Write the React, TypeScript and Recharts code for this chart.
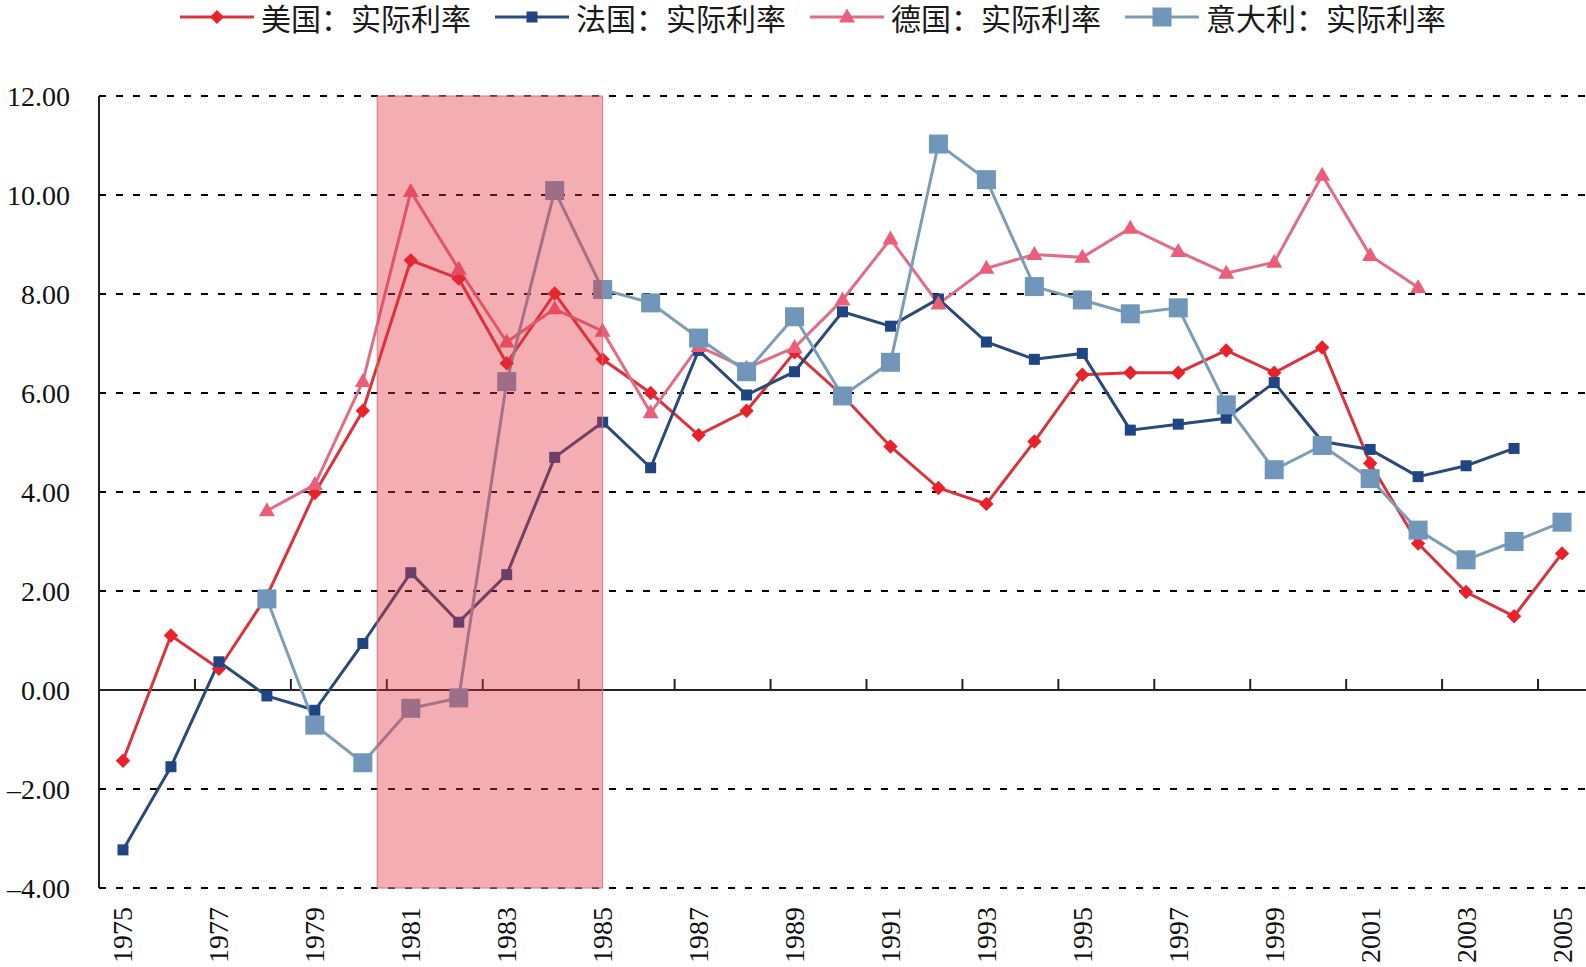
import React from 'react';
import {
  LineChart,
  Line,
  XAxis,
  YAxis,
  CartesianGrid,
  ReferenceArea,
  ReferenceLine,
} from 'recharts';

const years = [
  1975, 1976, 1977, 1978, 1979, 1980, 1981, 1982, 1983, 1984, 1985, 1986, 1987, 1988, 1989, 1990,
  1991, 1992, 1993, 1994, 1995, 1996, 1997, 1998, 1999, 2000, 2001, 2002, 2003, 2004, 2005,
];

// 美国
const usRate = [
  -1.43, 1.1, 0.43, 1.9, 3.98, 5.64, 8.68, 8.31, 6.6, 8.01, 6.68, 6.0, 5.15, 5.64, 6.82, 5.95,
  4.92, 4.08, 3.76, 5.02, 6.37, 6.41, 6.41, 6.86, 6.41, 6.92, 4.58, 2.96, 1.98, 1.49, 2.76,
];

// 法国
const frRate = [
  -3.23, -1.55, 0.57, -0.12, -0.41, 0.94, 2.37, 1.37, 2.33, 4.7, 5.41, 4.49, 6.86, 5.96, 6.43, 7.64,
  7.35, 7.9, 7.03, 6.68, 6.8, 5.25, 5.37, 5.49, 6.21, 5.02, 4.86, 4.31, 4.53, 4.88, null,
];

// 德国
const deRate = [
  null, null, null, 3.62, 4.15, 6.23, 10.07, 8.5, 7.03, 7.7, 7.25, 5.6, 6.94, 6.5, 6.92, 7.88,
  9.11, 7.8, 8.52, 8.8, 8.74, 9.33, 8.86, 8.42, 8.64, 10.4, 8.78, 8.13, null, null, null,
];

// 意大利
const itRate = [
  null, null, null, 1.84, -0.71, -1.47, -0.37, -0.16, 6.23, 10.09, 8.09, 7.82, 7.11, 6.43, 7.54, 5.94,
  6.62, 11.03, 10.31, 8.15, 7.88, 7.6, 7.72, 5.76, 4.45, 4.94, 4.27, 3.23, 2.63, 3.0, 3.39,
];

const yTicks = [-4, -2, 0, 2, 4, 6, 8, 10, 12];
const xTicks = [1975, 1977, 1979, 1981, 1983, 1985, 1987, 1989, 1991, 1993, 1995, 1997, 1999, 2001, 2003, 2005];
const shadeFrom = 1980.3;
const shadeTo = 1985;

const data = years.map((year, i) => ({
  year,
  us: usRate[i],
  fr: frRate[i],
  de: deRate[i],
  it: itRate[i],
}));

const W = 1586;
const H = 967;
const TOP = 96;
const AXIS_W = 99;
const AXIS_H = 79;
// height of the small tick marks standing on the zero line, in value units
const TICK_UNITS = 11 / ((H - TOP - AXIS_H) / 16);

const SERIF = '"Liberation Serif", "Times New Roman", serif';
const CJK = '"Liberation Serif", "Noto Sans CJK SC", serif';

const colors = {
  usLine: '#d9333d',
  usDot: '#e8212b',
  frLine: '#2a4a79',
  frDot: '#1f4683',
  deLine: '#e06d84',
  deDot: '#ea5f77',
  itLine: '#7f9cb5',
  itDot: '#7096b9',
};

const ok = (p: any) => typeof p.cx === 'number' && typeof p.cy === 'number' && p.value != null;

const Diamond = (p: any) => {
  if (!ok(p)) return null;
  const r = 7.2;
  const { cx, cy } = p;
  return (
    <polygon
      key={p.key}
      points={`${cx},${cy - r} ${cx + r},${cy} ${cx},${cy + r} ${cx - r},${cy}`}
      fill={colors.usDot}
    />
  );
};

const makeSquare = (size: number, fill: string) => (p: any) => {
  if (!ok(p)) return null;
  return <rect key={p.key} x={p.cx - size / 2} y={p.cy - size / 2} width={size} height={size} fill={fill} />;
};

const Triangle = (p: any) => {
  if (!ok(p)) return null;
  const { cx, cy } = p;
  return (
    <polygon
      key={p.key}
      points={`${cx},${cy - 8.5} ${cx + 8},${cy + 5.5} ${cx - 8},${cy + 5.5}`}
      fill={colors.deDot}
    />
  );
};

const SmallSquare = makeSquare(11, colors.frDot);
const BigSquare = makeSquare(19, colors.itDot);

const YTick = (p: any) => {
  const v: number = p.payload.value;
  const text = v < 0 ? `–${Math.abs(v).toFixed(2)}` : v.toFixed(2);
  return (
    <text x={70} y={p.y} textAnchor="end" dominantBaseline="central" fontSize={28} fontFamily={SERIF} fill="#111">
      {text}
    </text>
  );
};

const XTick = (p: any) => {
  const y = H - AXIS_H + 19;
  return (
    <text
      x={p.x}
      y={y}
      transform={`rotate(-90, ${p.x}, ${y})`}
      textAnchor="end"
      dominantBaseline="central"
      fontSize={28}
      fontFamily={SERIF}
      fill="#111"
    >
      {p.payload.value}
    </text>
  );
};

const legendItems = [
  { label: '美国：实际利率', line: colors.usLine, marker: 'diamond', fill: colors.usDot },
  { label: '法国：实际利率', line: colors.frLine, marker: 'small', fill: colors.frDot },
  { label: '德国：实际利率', line: colors.deLine, marker: 'triangle', fill: colors.deDot },
  { label: '意大利：实际利率', line: colors.itLine, marker: 'big', fill: colors.itDot },
];

const LegendIcon = ({ line, marker, fill }: { line: string; marker: string; fill: string }) => (
  <svg width={74} height={24} style={{ display: 'block' }}>
    <line x1={0} y1={12} x2={74} y2={12} stroke={line} strokeWidth={3} />
    {marker === 'diamond' && <polygon points="37,5 44,12 37,19 30,12" fill={fill} />}
    {marker === 'small' && <rect x={31.5} y={6.5} width={11} height={11} fill={fill} />}
    {marker === 'triangle' && <polygon points="37,3.5 45,17.5 29,17.5" fill={fill} />}
    {marker === 'big' && <rect x={27.5} y={2.5} width={19} height={19} fill={fill} />}
  </svg>
);

export default function App() {
  return (
    <div style={{ position: 'absolute', left: 0, top: 0, width: W, height: H, background: '#fff' }}>
      <div
        style={{
          position: 'absolute',
          left: 180,
          top: 0,
          height: 34,
          display: 'flex',
          alignItems: 'center',
          fontFamily: CJK,
          fontSize: 30,
          color: '#1a1a1a',
          whiteSpace: 'nowrap',
        }}
      >
        {legendItems.map((it) => (
          <div key={it.label} style={{ display: 'flex', alignItems: 'center', marginRight: 24 }}>
            <LegendIcon line={it.line} marker={it.marker} fill={it.fill} />
            <span style={{ marginLeft: 7 }}>{it.label}</span>
          </div>
        ))}
      </div>
      <LineChart width={W} height={H} data={data} margin={{ top: TOP, right: 0, bottom: 0, left: 0 }}>
        <CartesianGrid
          vertical={false}
          stroke="#000"
          strokeWidth={2}
          strokeDasharray="7 10"
          horizontalValues={yTicks}
        />
        <XAxis
          dataKey="year"
          type="number"
          domain={[1974.5, 2005.5]}
          ticks={xTicks}
          interval={0}
          height={AXIS_H}
          axisLine={false}
          tickLine={false}
          tick={<XTick />}
        />
        <YAxis
          domain={[-4, 12]}
          ticks={yTicks}
          width={AXIS_W}
          interval={0}
          axisLine={{ stroke: '#222', strokeWidth: 2 }}
          tickLine={false}
          tick={<YTick />}
        />
        <ReferenceLine y={0} stroke="#222" strokeWidth={2.2} />
        {xTicks.slice(1).map((t) => (
          <ReferenceLine
            key={t}
            segment={[
              { x: t - 0.5, y: 0 },
              { x: t - 0.5, y: TICK_UNITS },
            ]}
            stroke="#222"
            strokeWidth={2}
          />
        ))}
        <Line
          dataKey="us"
          type="linear"
          stroke={colors.usLine}
          strokeWidth={3}
          dot={Diamond}
          activeDot={false}
          connectNulls={false}
          isAnimationActive={false}
        />
        <Line
          dataKey="fr"
          type="linear"
          stroke={colors.frLine}
          strokeWidth={3}
          dot={SmallSquare}
          activeDot={false}
          connectNulls={false}
          isAnimationActive={false}
        />
        <Line
          dataKey="de"
          type="linear"
          stroke={colors.deLine}
          strokeWidth={3}
          dot={Triangle}
          activeDot={false}
          connectNulls={false}
          isAnimationActive={false}
        />
        <Line
          dataKey="it"
          type="linear"
          stroke={colors.itLine}
          strokeWidth={3}
          dot={BigSquare}
          activeDot={false}
          connectNulls={false}
          isAnimationActive={false}
        />
        <ReferenceArea
          x1={shadeFrom}
          x2={shadeTo}
          y1={-4}
          y2={12}
          fill="#e3313f"
          fillOpacity={0.4}
          stroke="#c87a83"
          strokeWidth={1}
          zIndex={1000}
        />
      </LineChart>
    </div>
  );
}
